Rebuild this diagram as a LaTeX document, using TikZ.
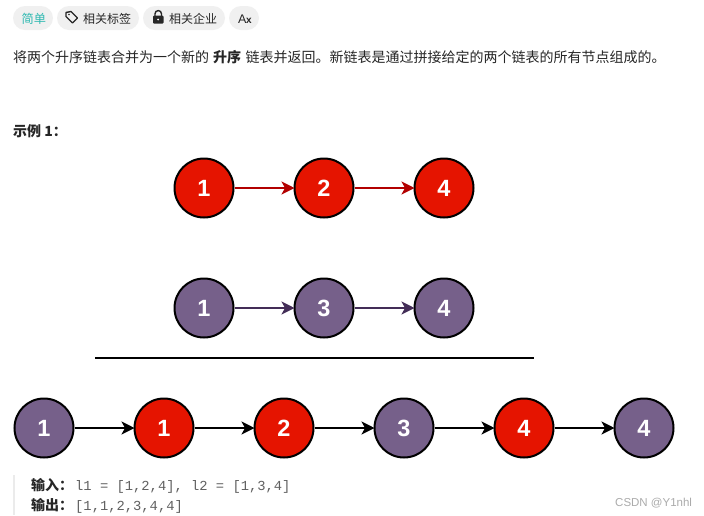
\documentclass[tikz,border=0pt]{standalone}
\usepackage{fontspec}
\setmainfont{Liberation Sans}
\newfontfamily\cjk{Noto Sans CJK SC}
\newfontfamily\codefont{Liberation Mono}
\usetikzlibrary{arrows.meta}
\definecolor{redfill}{HTML}{E51400}
\definecolor{purplefill}{HTML}{76608A}
\definecolor{redline}{HTML}{B20000}
\definecolor{purpleline}{HTML}{432D57}
\definecolor{pillgray}{HTML}{F0F0F0}
\definecolor{bodytext}{HTML}{262626}
\definecolor{easycolor}{HTML}{2DB8B0}
\tikzset{
  listnode/.style={circle,draw=black,line width=2pt,minimum size=59pt,inner sep=0pt,text=white,font=\fontsize{23.5}{24}\selectfont\bfseries},
  rednode/.style={listnode,fill=redfill},
  purplenode/.style={listnode,fill=purplefill},
  link/.style={line width=2pt,-{Stealth[length=13pt,width=13pt,inset=3.5pt]},shorten >=-1pt},
  redlink/.style={link,draw=redline},
  purplelink/.style={link,draw=purpleline},
  blacklink/.style={link,draw=black},
  pill/.style={rounded corners=12pt,fill=pillgray,draw=none},
  label/.style={anchor=base west,inner sep=0pt,text=bodytext,font=\cjk\fontsize{14}{14}\selectfont},
  boldlabel/.style={label,font=\cjk\fontsize{14}{14}\selectfont\bfseries},
  pilllabel/.style={label,font=\cjk\fontsize{12}{13}\selectfont},
  codetext/.style={anchor=base west,inner sep=0pt,text=black!62,font=\codefont\fontsize{13.8}{14}\selectfont}
}
\begin{document}
\begin{tikzpicture}[x=1pt,y=-1pt]
\useasboundingbox (0,0) rectangle (704,515);
\fill[white] (0,0) rectangle (704,515);
% pills
\fill[pill] (13,6) rectangle (53,30);
\fill[pill] (57,6) rectangle (139,30);
\fill[pill] (143,6) rectangle (225,30);
\fill[pill] (229,6) rectangle (259,30);
\node[anchor=base west,inner sep=0pt,text=easycolor,font=\cjk\fontsize{12.2}{13}\selectfont] (easy) at (21.5,23) {简单};
\node[pilllabel] (tags) at (83,23) {相关标签};
\node[pilllabel] (firms) at (169,23) {相关企业};
\node[anchor=base west,inner sep=0pt,text=bodytext,font=\fontsize{12.5}{13}\selectfont] (lang) at (238,23) {A\kern-0.3pt{\fontsize{10}{10}\selectfont\bfseries x}};
% tag icon
\draw[line width=1.4pt,bodytext,line join=round] (66,12.5) -- (71,11.5) -- (77.5,18) -- (72.5,23) -- (66,16.5) -- cycle;
\fill[bodytext] (69,14.5) circle (0.9);
% lock icon
\fill[bodytext,rounded corners=1pt] (153,15.5) rectangle (163.5,23.5);
\draw[line width=1.4pt,bodytext] (155,16) -- (155,13.8) arc[start angle=180,end angle=360,radius=3.25] -- (161.5,16);
\fill[white] (158.2,19.5) circle (1);
% text
\node[label] (introa) at (13,62.5) {将两个升序链表合并为一个新的};
\node[boldlabel] (introb) at (213,62.5) {升序};
\node[label] (introc) at (245.5,62.5) {链表并返回。新链表是通过拼接给定的两个链表的所有节点组成的。};
\node[boldlabel] (example) at (13,136) {示例 1：};
% first list
\node[rednode] (a1) at (204,188) {1};
\node[rednode] (a2) at (324,188) {2};
\node[rednode] (a3) at (444,188) {4};
\draw[redlink] (a1) -- (a2);
\draw[redlink] (a2) -- (a3);
% second list
\node[purplenode] (b1) at (204,308) {1};
\node[purplenode] (b2) at (324,308) {3};
\node[purplenode] (b3) at (444,308) {4};
\draw[purplelink] (b1) -- (b2);
\draw[purplelink] (b2) -- (b3);
% divider
\coordinate (ruleL) at (95,358);
\coordinate (ruleR) at (534,358);
\draw[line width=2pt,black] (ruleL) -- (ruleR);
% merged list
\node[purplenode] (c1) at (44,428) {1};
\node[rednode] (c2) at (164,428) {1};
\node[rednode] (c3) at (284,428) {2};
\node[purplenode] (c4) at (404,428) {3};
\node[rednode] (c5) at (524,428) {4};
\node[purplenode] (c6) at (644,428) {4};
\draw[blacklink] (c1) -- (c2);
\draw[blacklink] (c2) -- (c3);
\draw[blacklink] (c3) -- (c4);
\draw[blacklink] (c4) -- (c5);
\draw[blacklink] (c5) -- (c6);
% example block
\fill[black!8] (13,475) rectangle (15,515);
\node[boldlabel] (inlabel) at (31,490) {输入：};
\node[codetext] (incode) at (75,490) {l1 = [1,2,4], l2 = [1,3,4]};
\node[boldlabel] (outlabel) at (31,510) {输出：};
\node[codetext] (outcode) at (75,510) {[1,1,2,3,4,4]};
\node[anchor=base west,inner sep=0pt,text=black!33,font=\fontsize{11.5}{12}\selectfont] (mark) at (615,506) {CSDN @Y1nhl};
\end{tikzpicture}
\end{document}
